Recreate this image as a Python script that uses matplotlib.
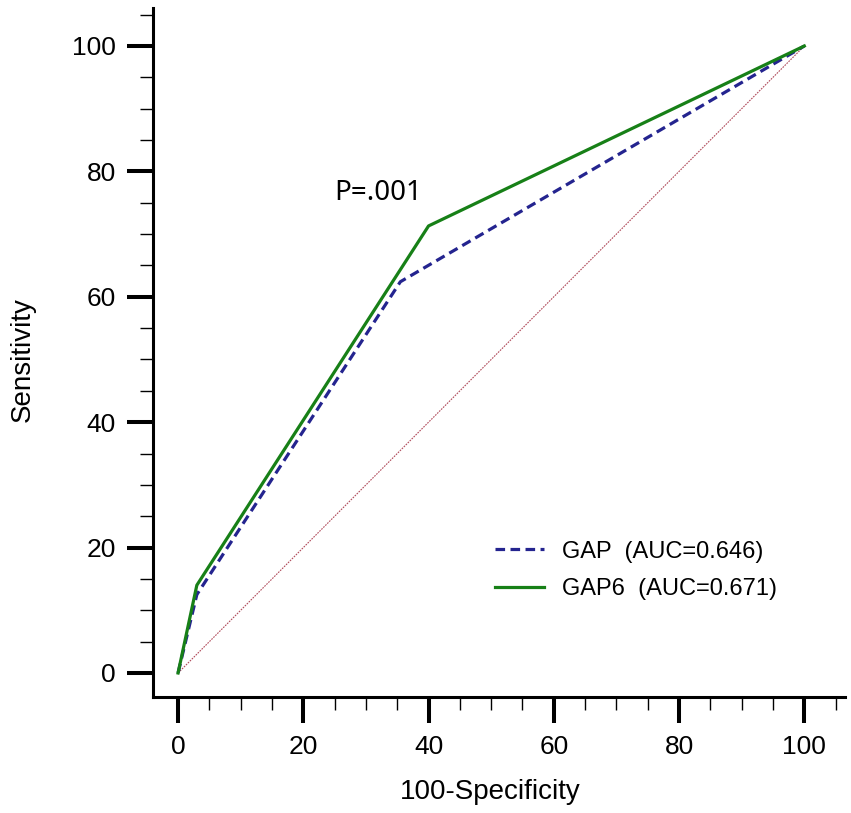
import matplotlib
matplotlib.use("Agg")
from matplotlib import pyplot as plt
from matplotlib.ticker import MultipleLocator

# ROC points (100-Specificity, Sensitivity)
gap_x = [0, 3, 35.5, 100]
gap_y = [0, 12.5, 62.4, 100]
gap6_x = [0, 3, 40, 100]
gap6_y = [0, 14, 71.3, 100]
ref_line = [0, 100]

gap_label = "GAP  (AUC=0.646)"
gap6_label = "GAP6  (AUC=0.671)"
p_text = "P=.001"

plt.rcParams['font.family'] = ['Liberation Sans', 'DejaVu Sans']

fig = plt.figure(figsize=(8.51, 8.13), dpi=100)
ax = fig.add_axes([153/851, 116/813, (845-153)/851, (697-8)/813])

ax.plot(ref_line, ref_line, color='#b04a5a', lw=0.8, ls=(0, (1.5, 1)))
ax.plot(gap_x, gap_y, color='#24248f', lw=2.3, ls=(0, (3.0, 1.7)), label=gap_label)
ax.plot(gap6_x, gap6_y, color='#178017', lw=2.3, label=gap6_label)

ax.set_xlim(-4, 106.5)
ax.set_ylim(-3.83, 106.06)

for side in ['top', 'right']:
    ax.spines[side].set_visible(False)
for side in ['left', 'bottom']:
    ax.spines[side].set_linewidth(2.2)

ax.xaxis.set_major_locator(MultipleLocator(20))
ax.xaxis.set_minor_locator(MultipleLocator(5))
ax.yaxis.set_major_locator(MultipleLocator(20))
ax.yaxis.set_minor_locator(MultipleLocator(5))
ax.tick_params(which='major', length=18.7, width=2.9, labelsize=19, pad=8)
ax.tick_params(which='minor', length=9.4, width=1.0)
ax.tick_params(axis='x', which='major', pad=9)

ax.set_xlabel("100-Specificity", fontsize=20, labelpad=14)
ax.set_ylabel("Sensitivity", fontsize=20, labelpad=26)
ax.xaxis.label.set_x(0.488)
ax.yaxis.label.set_y(0.49)

ax.text(25, 76.5, p_text, fontsize=20, family=['Noto Sans', 'DejaVu Sans'],
        va='center', ha='left')

ax.legend(loc='upper left', bbox_to_anchor=(0.494, 0.227), frameon=False,
          fontsize=17, borderpad=0, borderaxespad=0, handlelength=2.1,
          handletextpad=0.75, labelspacing=0.66)

fig.savefig("out.png", dpi=100)
